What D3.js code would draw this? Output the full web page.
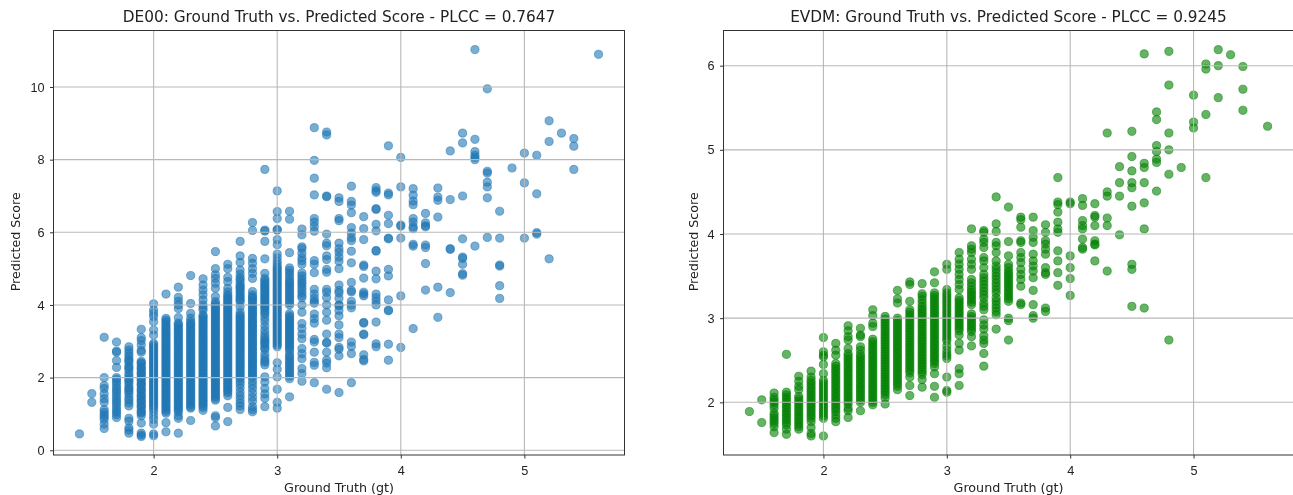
<!DOCTYPE html>
<html lang="en">
<head>
	<meta charset="UTF-8">
	<title>Ground Truth vs. Predicted Score</title>
	<style>
		html, body {
			margin: 0;
			background: #fff;
			font-family: 'DejaVu Sans', sans-serif;
		}
		svg {
			display: block;
			filter: blur(0.45px);
		}
		.domain {
			display: none;
		}
		.tick text {
			font-size: 12.7px;
			fill: #222;
		}
		.tick line {
			stroke: #333;
		}
	</style>
	<script src="https://d3js.org/d3.v7.min.js"></script>
</head>
<body>
	<svg id="container" width="1293" height="495"></svg>
	<script>
		const de00Gt = [1.4, 1.5, 1.6, 1.7, 1.8, 1.9, 2.0, 2.1, 2.2, 2.3, 2.4, 2.5, 2.6, 2.7, 2.8, 2.9, 3.0, 3.1, 3.2, 3.3, 3.4, 3.5, 3.6, 3.7, 3.8, 3.9, 4.0, 4.1, 4.2, 4.3, 4.4, 4.5, 4.6, 4.7, 4.8, 4.9, 5.0, 5.1, 5.2, 5.3, 5.4, 5.6];
		const de00Scores = [
			[0.45],
			[1.56, 1.32],
			[3.11, 2.0, 1.78, 1.7, 1.55, 1.42, 1.32, 1.12, 1.05, 0.98, 0.92, 0.85, 0.72, 0.6],
			[2.98, 2.73, 2.7, 2.47, 2.28, 2.0, 1.95, 1.88, 1.8, 1.72, 1.65, 1.58, 1.5, 1.42, 1.35, 1.28, 1.2, 1.12, 1.05, 0.98, 0.9],
			[2.85, 2.76, 2.68, 2.6, 2.52, 2.47, 2.42, 2.32, 2.27, 2.22, 2.12, 2.05, 1.97, 1.92, 1.88, 1.8, 1.72, 1.67, 1.62, 1.55, 1.45, 1.38, 1.3, 1.22, 0.88, 0.8, 0.62, 0.55, 0.47],
			[3.33, 3.1, 3.02, 2.9, 2.75, 2.7, 2.45, 2.41, 2.38, 2.3, 2.26, 2.22, 2.15, 2.11, 2.08, 2, 1.96, 1.92, 1.85, 1.81, 1.78, 1.7, 1.66, 1.62, 1.55, 1.5, 1.47, 1.4, 1.36, 1.32, 1.25, 1.21, 1.18, 1.1, 1.05, 1.02, 0.95, 0.75, 0.47, 0.42, 0.38],
			[4.03, 3.86, 3.77, 3.68, 3.54, 3.31, 3.17, 2.94, 2.9, 2.85, 2.8, 2.75, 2.7, 2.65, 2.6, 2.55, 2.5, 2.45, 2.4, 2.35, 2.3, 2.25, 2.2, 2.15, 2.1, 2.05, 2, 1.95, 1.9, 1.85, 1.8, 1.75, 1.7, 1.65, 1.6, 1.55, 1.5, 1.45, 1.4, 1.35, 1.3, 1.25, 1.2, 1.14, 1.06, 0.95, 0.85, 0.72, 0.45, 0.4],
			[4.3, 3.63, 3.58, 3.53, 3.47, 3.42, 3.37, 3.32, 3.27, 3.22, 3.17, 3.12, 3.07, 3.02, 2.97, 2.92, 2.87, 2.82, 2.77, 2.72, 2.67, 2.62, 2.57, 2.52, 2.47, 2.42, 2.37, 2.32, 2.27, 2.22, 2.17, 2.12, 2.07, 2.02, 1.97, 1.92, 1.87, 1.82, 1.77, 1.72, 1.67, 1.62, 1.57, 1.52, 1.47, 1.42, 1.37, 1.32, 1.27, 1.22, 1.17, 1.12, 1.07, 1.02, 0.76, 0.51],
			[4.49, 4.21, 4.1, 4.0, 3.9, 3.65, 3.5, 3.46, 3.41, 3.36, 3.31, 3.26, 3.21, 3.16, 3.11, 3.06, 3.01, 2.96, 2.91, 2.86, 2.81, 2.76, 2.71, 2.66, 2.61, 2.56, 2.51, 2.46, 2.41, 2.36, 2.31, 2.26, 2.21, 2.16, 2.11, 2.06, 2.01, 1.96, 1.91, 1.86, 1.81, 1.76, 1.71, 1.66, 1.61, 1.56, 1.51, 1.46, 1.41, 1.36, 1.31, 1.26, 1.21, 1.16, 1.11, 1.06, 0.95, 0.88, 0.47],
			[4.81, 4.04, 3.77, 3.64, 3.55, 3.5, 3.45, 3.4, 3.35, 3.3, 3.25, 3.2, 3.15, 3.1, 3.05, 3, 2.95, 2.9, 2.85, 2.8, 2.75, 2.7, 2.65, 2.6, 2.55, 2.5, 2.45, 2.4, 2.35, 2.3, 2.25, 2.2, 2.15, 2.1, 2.05, 2, 1.95, 1.9, 1.85, 1.8, 1.75, 1.7, 1.65, 1.6, 1.55, 1.5, 1.45, 1.4, 1.35, 1.3, 1.25, 1.2, 1.16, 0.82],
			[4.72, 4.55, 4.41, 4.28, 4.14, 4.0, 3.92, 3.86, 3.72, 3.68, 3.63, 3.58, 3.53, 3.48, 3.43, 3.38, 3.33, 3.28, 3.23, 3.18, 3.13, 3.08, 3.03, 2.98, 2.93, 2.88, 2.83, 2.78, 2.73, 2.68, 2.63, 2.58, 2.53, 2.48, 2.43, 2.38, 2.33, 2.28, 2.23, 2.18, 2.13, 2.08, 2.03, 1.98, 1.93, 1.88, 1.83, 1.78, 1.73, 1.68, 1.63, 1.58, 1.53, 1.48, 1.43, 1.38, 1.33, 1.28, 1.23, 1.18, 1.1],
			[5.47, 5.0, 4.83, 4.73, 4.6, 4.46, 4.23, 4.09, 4.03, 3.98, 3.93, 3.88, 3.83, 3.78, 3.73, 3.68, 3.63, 3.58, 3.53, 3.48, 3.43, 3.38, 3.33, 3.28, 3.23, 3.18, 3.13, 3.08, 3.03, 2.98, 2.93, 2.88, 2.83, 2.78, 2.73, 2.68, 2.63, 2.58, 2.53, 2.48, 2.43, 2.38, 2.33, 2.28, 2.23, 2.18, 2.13, 2.08, 2.03, 1.98, 1.93, 1.88, 1.83, 1.78, 1.73, 1.68, 1.63, 1.58, 1.53, 1.48, 1.43, 1.38, 0.95, 0.9, 0.67],
			[5.12, 5.0, 4.76, 4.64, 4.46, 4.36, 4.28, 4.23, 4.18, 4.13, 4.08, 4.03, 3.98, 3.93, 3.88, 3.83, 3.78, 3.73, 3.68, 3.63, 3.58, 3.53, 3.48, 3.43, 3.38, 3.33, 3.28, 3.23, 3.18, 3.13, 3.08, 3.03, 2.98, 2.93, 2.88, 2.83, 2.78, 2.73, 2.68, 2.63, 2.58, 2.53, 2.48, 2.43, 2.38, 2.33, 2.28, 2.23, 2.18, 2.13, 2.08, 2.03, 1.98, 1.93, 1.88, 1.83, 1.78, 1.73, 1.68, 1.63, 1.58, 1.5, 1.18, 0.79],
			[5.75, 5.35, 5.17, 4.96, 4.85, 4.75, 4.7, 4.62, 4.55, 4.5, 4.46, 4.4, 4.35, 4.28, 4.23, 4.18, 4.13, 4.08, 3.95, 3.8, 3.72, 3.68, 3.63, 3.58, 3.53, 3.48, 3.43, 3.38, 3.33, 3.28, 3.23, 3.18, 3.13, 3.08, 3.03, 2.98, 2.93, 2.88, 2.83, 2.78, 2.73, 2.68, 2.63, 2.58, 2.53, 2.48, 2.43, 2.38, 2.33, 2.28, 2.23, 2.18, 2.13, 2.08, 2.03, 1.98, 1.9, 1.82, 1.72, 1.6, 1.5, 1.4, 1.3, 1.22, 1.12],
			[6.27, 6.05, 5.28, 5.15, 5.0, 4.87, 4.73, 4.37, 4.28, 4.22, 4.18, 4.12, 4.08, 4.0, 3.95, 3.9, 3.85, 3.8, 3.75, 3.7, 3.65, 3.6, 3.55, 3.5, 3.45, 3.4, 3.35, 3.3, 3.25, 3.2, 3.15, 3.1, 3.05, 3, 2.95, 2.9, 2.85, 2.8, 2.75, 2.7, 2.65, 2.6, 2.55, 2.5, 2.45, 2.4, 2.35, 2.3, 2.25, 2.2, 2.15, 2.1, 2.05, 2, 1.9, 1.8, 1.7, 1.58, 1.46, 1.35, 1.2, 1.12, 1.06],
			[7.73, 6.06, 6.03, 5.75, 5.27, 4.87, 4.73, 4.68, 4.62, 4.57, 4.52, 4.47, 4.42, 4.37, 4.32, 4.27, 4.22, 4.17, 4.12, 4.07, 4.02, 3.97, 3.92, 3.87, 3.8, 3.75, 3.65, 3.55, 3.42, 3.3, 3.2, 3.12, 3.05, 3, 2.95, 2.9, 2.82, 2.78, 2.65, 2.55, 2.47, 2.42, 2.35, 2.02, 1.88, 1.7, 1.55, 1.43, 1.2],
			[7.14, 6.57, 6.38, 6.08, 6.06, 5.8, 5.66, 5.4, 5.3, 5.2, 5.12, 5.05, 5.0, 4.95, 4.9, 4.85, 4.8, 4.75, 4.7, 4.65, 4.6, 4.55, 4.5, 4.45, 4.4, 4.35, 4.3, 4.25, 4.2, 4.15, 4.1, 4.05, 4, 3.95, 3.9, 3.85, 3.8, 3.75, 3.7, 3.65, 3.6, 3.55, 3.5, 3.45, 3.4, 3.35, 3.3, 3.25, 3.2, 3.15, 3.1, 3.05, 3, 2.95, 2.9, 2.85, 2.41, 2.23, 2.02, 1.68, 1.32, 1.16],
			[6.58, 6.36, 5.44, 5.02, 4.95, 4.88, 4.8, 4.72, 4.65, 4.6, 4.54, 4.48, 4.42, 4.36, 4.3, 4.24, 4.18, 4.12, 4.06, 4.0, 3.76, 3.7, 3.65, 3.6, 3.55, 3.5, 3.45, 3.4, 3.35, 3.3, 3.25, 3.2, 3.15, 3.1, 3.05, 3, 2.95, 2.9, 2.85, 2.8, 2.74, 2.64, 2.58, 2.52, 2.46, 2.4, 2.34, 2.28, 2.22, 2.16, 2.1, 2.04, 1.97, 1.47],
			[6.09, 5.93, 5.6, 5.55, 5.42, 5.3, 5.22, 5.12, 4.88, 4.8, 4.72, 4.64, 4.58, 4.5, 4.42, 4.34, 4.26, 4.2, 4.0, 3.8, 3.49, 3.35, 3.2, 3.07, 2.8, 2.66, 2.52, 2.25, 2.11, 1.9],
			[8.88, 7.98, 7.49, 7.03, 6.38, 6.28, 6.16, 6.03, 5.22, 5.12, 4.89, 4.43, 4.3, 4.18, 4.1, 4.05, 3.75, 3.62, 3.5, 3.05, 2.98, 2.7, 2.42, 2.34, 1.86],
			[8.76, 8.68, 7.0, 6.98, 5.95, 5.7, 5.63, 5.35, 5.25, 4.98, 4.9, 4.43, 4.35, 4.2, 4.0, 3.8, 3.58, 3.2, 2.97, 2.95, 2.7, 2.48, 2.4, 2.27, 1.68],
			[6.95, 6.85, 6.38, 6.32, 5.7, 5.55, 5.45, 5.32, 5.2, 5.0, 4.55, 4.4, 4.33, 4.18, 4.0, 3.98, 3.85, 3.7, 3.45, 3.2, 3.1, 2.83, 2.78, 2.6, 1.59],
			[7.27, 6.85, 6.75, 6.54, 6.13, 5.98, 5.85, 5.77, 5.48, 5.16, 4.62, 4.4, 4.36, 4.1, 4.0, 3.92, 2.98, 2.86, 2.66, 1.86],
			[6.43, 6.1, 5.8, 5.1, 5.06, 4.74, 4.35, 4.3, 4.25, 3.52, 3.5, 3.2, 3.18, 2.63, 2.5, 2.46],
			[7.23, 7.15, 7.1, 6.65, 6.63, 6.22, 6.04, 5.5, 5.48, 4.93, 4.72, 4.3, 4.2, 4.1, 4.0, 3.53, 2.93, 2.85],
			[8.38, 7.08, 7.03, 6.47, 6.24, 5.84, 5.82, 4.98, 4.8, 4.14, 3.86, 3.84, 2.92, 2.48],
			[8.06, 7.25, 6.2, 6.17, 5.84, 4.25, 2.83],
			[7.2, 7.02, 6.86, 6.76, 6.38, 6.28, 6.15, 6.1, 5.67, 5.62, 3.35],
			[6.52, 6.18, 6.26, 6.15, 5.65, 5.58, 5.14, 4.41],
			[7.22, 6.97, 6.88, 6.42, 4.49, 3.66],
			[8.24, 6.9, 5.55, 5.53, 4.34],
			[8.73, 8.46, 7.0, 5.82, 5.32, 5.28, 5.12, 4.86, 4.82],
			[11.03, 8.56, 8.22, 8.12, 8.06, 8.0, 5.62],
			[9.95, 7.68, 7.63, 7.38, 7.25, 6.95, 5.86],
			[6.58, 5.84, 5.1, 5.07, 4.53, 4.18],
			[7.77],
			[8.18, 7.36, 5.84],
			[8.12, 7.06, 5.99, 5.95],
			[9.07, 8.5, 5.27],
			[8.73],
			[8.58, 8.37, 7.73],
			[10.9]
		];

		const evdmGt = [1.4, 1.5, 1.6, 1.7, 1.8, 1.9, 2.0, 2.1, 2.2, 2.3, 2.4, 2.5, 2.6, 2.7, 2.8, 2.9, 3.0, 3.1, 3.2, 3.3, 3.4, 3.5, 3.6, 3.7, 3.8, 3.9, 4.0, 4.1, 4.2, 4.3, 4.4, 4.5, 4.6, 4.7, 4.8, 4.9, 5.0, 5.1, 5.2, 5.3, 5.4, 5.6];
		const evdmScores = [
			[1.89],
			[2.03, 1.76],
			[2.11, 2.06, 2.03, 2.0, 1.97, 1.93, 1.87, 1.84, 1.81, 1.78, 1.75, 1.71, 1.64],
			[2.57, 2.12, 2.09, 2.06, 2.03, 2.0, 1.97, 1.94, 1.91, 1.88, 1.85, 1.82, 1.79, 1.76, 1.73, 1.68, 1.62],
			[2.31, 2.25, 2.19, 2.15, 2.07, 2.04, 2.01, 1.98, 1.95, 1.92, 1.89, 1.86, 1.83, 1.8, 1.77, 1.74, 1.71, 1.68],
			[2.37, 2.3, 2.26, 2.23, 2.2, 2.17, 2.14, 2.11, 2.08, 2.05, 2.02, 1.99, 1.96, 1.93, 1.9, 1.87, 1.84, 1.81, 1.77, 1.7, 1.63, 1.6],
			[2.77, 2.6, 2.56, 2.54, 2.45, 2.34, 2.26, 2.23, 2.2, 2.17, 2.14, 2.11, 2.08, 2.05, 2.02, 1.99, 1.96, 1.93, 1.9, 1.87, 1.84, 1.81, 1.6],
			[2.7, 2.62, 2.56, 2.46, 2.43, 2.4, 2.37, 2.34, 2.31, 2.28, 2.25, 2.22, 2.19, 2.16, 2.13, 2.1, 2.07, 2.04, 2.01, 1.98, 1.95, 1.92, 1.89, 1.85, 1.81, 1.77],
			[2.91, 2.85, 2.78, 2.74, 2.64, 2.58, 2.55, 2.52, 2.49, 2.46, 2.43, 2.4, 2.37, 2.34, 2.31, 2.28, 2.25, 2.22, 2.19, 2.16, 2.13, 2.1, 2.07, 2.04, 2.01, 1.98, 1.93, 1.9, 1.82],
			[2.88, 2.8, 2.78, 2.66, 2.62, 2.57, 2.54, 2.51, 2.48, 2.45, 2.42, 2.39, 2.36, 2.33, 2.3, 2.27, 2.24, 2.21, 2.18, 2.15, 2.12, 2.09, 2.06, 2.03, 2.0, 1.9],
			[3.1, 3.03, 2.94, 2.9, 2.75, 2.72, 2.69, 2.66, 2.63, 2.6, 2.57, 2.54, 2.51, 2.48, 2.45, 2.42, 2.39, 2.36, 2.33, 2.3, 2.27, 2.24, 2.21, 2.18, 2.15, 2.12, 2.09, 2.06, 2.03, 2.0, 1.97],
			[3.02, 2.99, 2.96, 2.93, 2.9, 2.87, 2.84, 2.81, 2.78, 2.75, 2.72, 2.69, 2.66, 2.63, 2.6, 2.57, 2.54, 2.51, 2.48, 2.45, 2.42, 2.39, 2.36, 2.33, 2.3, 2.27, 2.24, 2.21, 2.18, 2.15, 2.12, 2.09, 2.05, 1.98],
			[3.33, 3.23, 3.18, 3.0, 2.97, 2.94, 2.91, 2.88, 2.85, 2.82, 2.79, 2.76, 2.73, 2.7, 2.67, 2.64, 2.61, 2.58, 2.55, 2.52, 2.49, 2.46, 2.43, 2.4, 2.37, 2.34, 2.31, 2.28, 2.25, 2.22, 2.19, 2.15],
			[3.43, 3.4, 3.2, 3.1, 3.07, 3.04, 3.01, 2.98, 2.95, 2.92, 2.89, 2.86, 2.83, 2.8, 2.77, 2.74, 2.71, 2.68, 2.65, 2.62, 2.59, 2.56, 2.53, 2.5, 2.47, 2.44, 2.41, 2.38, 2.35, 2.3, 2.2, 2.08],
			[3.41, 3.29, 3.26, 3.22, 3.18, 3.14, 3.11, 3.08, 3.05, 3.02, 2.99, 2.96, 2.93, 2.9, 2.87, 2.84, 2.81, 2.78, 2.75, 2.72, 2.69, 2.66, 2.63, 2.6, 2.57, 2.54, 2.51, 2.48, 2.45, 2.42, 2.39, 2.36, 2.33, 2.27, 2.18],
			[3.55, 3.42, 3.3, 3.27, 3.24, 3.21, 3.18, 3.15, 3.12, 3.09, 3.06, 3.03, 3.0, 2.97, 2.94, 2.91, 2.88, 2.85, 2.82, 2.79, 2.76, 2.73, 2.7, 2.67, 2.64, 2.61, 2.58, 2.55, 2.52, 2.49, 2.46, 2.42, 2.34, 2.19, 2.06],
			[3.64, 3.58, 3.34, 3.3, 3.27, 3.24, 3.21, 3.18, 3.15, 3.12, 3.09, 3.06, 3.03, 3.0, 2.97, 2.94, 2.91, 2.88, 2.85, 2.82, 2.79, 2.76, 2.73, 2.67, 2.62, 2.58, 2.55, 2.52, 2.3, 2.14, 2.12],
			[3.78, 3.7, 3.64, 3.58, 3.52, 3.46, 3.4, 3.34, 3.24, 3.21, 3.18, 3.15, 3.12, 3.09, 3.06, 3.03, 3.0, 2.97, 2.94, 2.91, 2.88, 2.85, 2.8, 2.7, 2.62, 2.4, 2.34, 2.2],
			[4.06, 3.86, 3.82, 3.78, 3.7, 3.64, 3.58, 3.46, 3.42, 3.38, 3.34, 3.31, 3.28, 3.25, 3.22, 3.19, 3.16, 3.05, 3.02, 2.99, 2.96, 2.93, 2.9, 2.87, 2.84, 2.78, 2.67],
			[4.04, 4.02, 3.94, 3.9, 3.84, 3.72, 3.68, 3.6, 3.52, 3.48, 3.44, 3.4, 3.36, 3.32, 3.28, 3.24, 3.18, 3.14, 3.1, 2.98, 2.92, 2.87, 2.79, 2.74, 2.7, 2.58, 2.43],
			[4.44, 4.12, 4.03, 3.9, 3.86, 3.78, 3.68, 3.62, 3.58, 3.54, 3.5, 3.46, 3.42, 3.38, 3.34, 3.3, 3.24, 3.2, 3.16, 3.12, 3.08, 3.04, 2.87],
			[4.32, 3.91, 3.74, 3.64, 3.6, 3.56, 3.53, 3.5, 3.47, 3.44, 3.41, 3.38, 3.35, 3.32, 3.29, 3.26, 3.23, 3.2, 3.0, 2.97, 2.74],
			[4.2, 4.17, 4.08, 3.92, 3.9, 3.78, 3.72, 3.66, 3.58, 3.52, 3.46, 3.38, 3.18, 3.16],
			[4.2, 4.04, 3.96, 3.9, 3.76, 3.68, 3.62, 3.56, 3.48, 3.33, 3.16, 3.03, 3.0],
			[4.11, 4.02, 3.92, 3.88, 3.82, 3.76, 3.6, 3.54, 3.52, 3.12, 3.08],
			[4.67, 4.38, 4.35, 4.26, 4.14, 4.06, 4.02, 3.8, 3.68, 3.54, 3.39],
			[4.38, 4.36, 3.74, 3.6, 3.47, 3.27],
			[4.42, 4.34, 4.16, 4.1, 4.06, 3.94, 3.84, 3.82],
			[4.36, 4.22, 4.2, 4.1, 3.92, 3.88, 3.87, 3.68],
			[5.2, 4.5, 4.45, 4.19, 4.1, 3.56],
			[4.8, 4.61, 4.45, 3.99],
			[5.22, 4.92, 4.75, 4.61, 4.55, 4.33, 3.64, 3.58, 3.14],
			[6.14, 4.84, 4.79, 4.61, 4.37, 4.06, 3.12],
			[5.45, 5.36, 5.05, 4.98, 4.89, 4.85, 4.51],
			[6.17, 5.77, 5.2, 5.0, 4.71, 2.74],
			[4.79],
			[5.65, 5.33, 5.26],
			[6.02, 5.96, 5.42, 4.67],
			[6.19, 6.0, 5.62],
			[6.13],
			[5.99, 5.72, 5.47],
			[5.28]
		];

		const de00Title = 'DE00: Ground Truth vs. Predicted Score - PLCC = 0.7647';
		const evdmTitle = 'EVDM: Ground Truth vs. Predicted Score - PLCC = 0.9245';
		const xLabel = 'Ground Truth (gt)';
		const yLabel = 'Predicted Score';
		const gtTicks = [2, 3, 4, 5];
		const de00Ticks = [0, 2, 4, 6, 8, 10];
		const evdmTicks = [2, 3, 4, 5, 6];

		const svg = d3.select('#container');

		// one scatter panel, grid goes on top of the dots like in matplotlib
		function drawPanel(config) {
			const { left, right, top, bottom } = config.box;
			const x = d3.scaleLinear().domain(config.xDomain).range([left, right]);
			const y = d3.scaleLinear().domain(config.yDomain).range([bottom, top]);
			const points = config.gt.flatMap((g, i) => config.scores[i].map(s => ({ gt: g, score: s })));

			const panel = svg.append('g');

			panel.append('g')
				.selectAll('circle')
				.data(points)
				.enter()
				.append('circle')
				.attr('cx', d => x(d.gt))
				.attr('cy', d => y(d.score))
				.attr('r', 4.1)
				.attr('fill', config.color)
				.attr('fill-opacity', 0.6)
				.attr('stroke', config.color)
				.attr('stroke-opacity', 0.6)
				.attr('stroke-width', 0.9);

			const grid = panel.append('g')
				.attr('stroke', '#b8b8b8')
				.attr('stroke-width', 1.1);
			grid.selectAll('line.v')
				.data(config.xTicks)
				.enter()
				.append('line')
				.attr('x1', d => x(d)).attr('x2', d => x(d))
				.attr('y1', top).attr('y2', bottom);
			grid.selectAll('line.h')
				.data(config.yTicks)
				.enter()
				.append('line')
				.attr('x1', left).attr('x2', right)
				.attr('y1', d => y(d)).attr('y2', d => y(d));

			panel.append('g')
				.attr('transform', `translate(0,${bottom})`)
				.call(d3.axisBottom(x).tickValues(config.xTicks).tickFormat(d3.format('d')).tickSize(3.5).tickPadding(7));
			panel.append('g')
				.attr('transform', `translate(${left},0)`)
				.call(d3.axisLeft(y).tickValues(config.yTicks).tickFormat(d3.format('d')).tickSize(3.5).tickPadding(5.5));

			panel.append('rect')
				.attr('x', left).attr('y', top)
				.attr('width', right - left).attr('height', bottom - top)
				.attr('fill', 'none')
				.attr('stroke', '#333')
				.attr('stroke-width', 1);

			panel.append('text')
				.attr('x', (left + right) / 2)
				.attr('y', 22)
				.attr('text-anchor', 'middle')
				.attr('font-size', 15.3)
				.attr('fill', '#222')
				.text(config.title);
			panel.append('text')
				.attr('x', (left + right) / 2)
				.attr('y', 492)
				.attr('text-anchor', 'middle')
				.attr('font-size', 12.7)
				.attr('fill', '#222')
				.text(xLabel);
			panel.append('text')
				.attr('transform', `translate(${config.yLabelX},${(top + bottom) / 2 - 1}) rotate(-90)`)
				.attr('text-anchor', 'middle')
				.attr('font-size', 12.7)
				.attr('fill', '#222')
				.text(yLabel);
		}

		drawPanel({
			box: { left: 53.5, right: 624.5, top: 30.5, bottom: 455 },
			xDomain: [1.19, 5.81],
			yDomain: [-0.13, 11.555],
			yLabelX: 20,
			gt: de00Gt,
			scores: de00Scores,
			xTicks: gtTicks,
			yTicks: de00Ticks,
			color: '#1f77b4',
			title: de00Title,
		});

		drawPanel({
			box: { left: 723.5, right: 1293.5, top: 30.5, bottom: 455 },
			xDomain: [1.19, 5.81],
			yDomain: [1.374, 6.418],
			yLabelX: 698,
			gt: evdmGt,
			scores: evdmScores,
			xTicks: gtTicks,
			yTicks: evdmTicks,
			color: '#008000',
			title: evdmTitle,
		});
	</script>
</body>
</html>
